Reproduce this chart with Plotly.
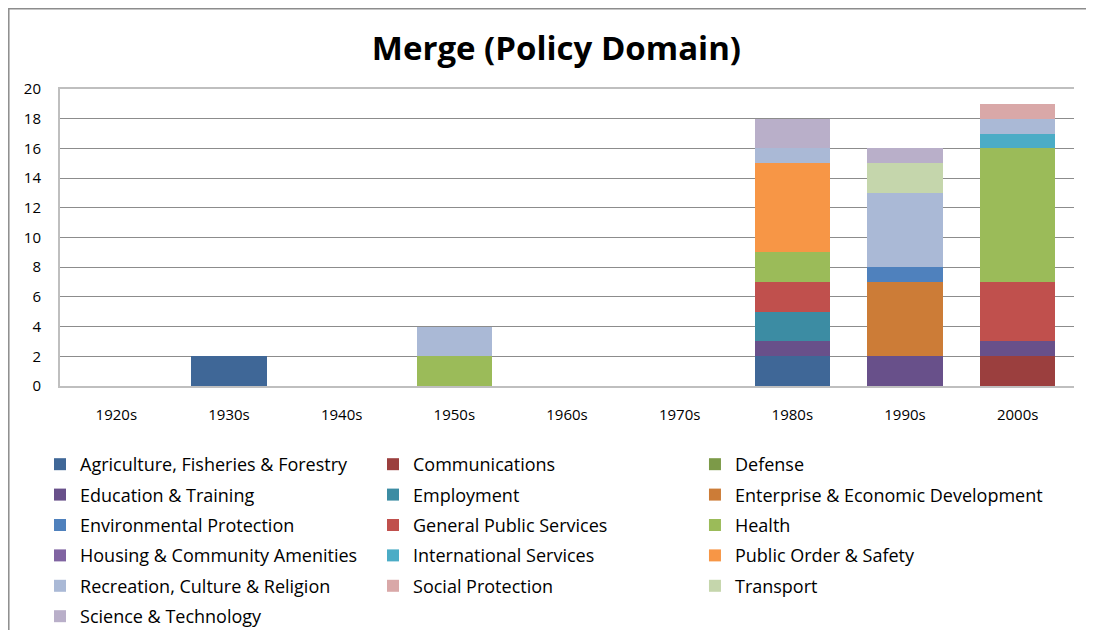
import plotly.graph_objects as go

decades = ["1920s", "1930s", "1940s", "1950s", "1960s", "1970s", "1980s", "1990s", "2000s"]

agriculture = [0, 2, 0, 0, 0, 0, 2, 0, 0]
communications = [0, 0, 0, 0, 0, 0, 0, 0, 2]
defense = [0, 0, 0, 0, 0, 0, 0, 0, 0]
education = [0, 0, 0, 0, 0, 0, 1, 2, 1]
employment = [0, 0, 0, 0, 0, 0, 2, 0, 0]
enterprise = [0, 0, 0, 0, 0, 0, 0, 5, 0]
environmental = [0, 0, 0, 0, 0, 0, 0, 1, 0]
general_public = [0, 0, 0, 0, 0, 0, 2, 0, 4]
health = [0, 0, 0, 2, 0, 0, 2, 0, 9]
housing = [0, 0, 0, 0, 0, 0, 0, 0, 0]
international = [0, 0, 0, 0, 0, 0, 0, 0, 1]
public_order = [0, 0, 0, 0, 0, 0, 6, 0, 0]
recreation = [0, 0, 0, 2, 0, 0, 1, 5, 1]
social = [0, 0, 0, 0, 0, 0, 0, 0, 1]
transport = [0, 0, 0, 0, 0, 0, 0, 2, 0]
science = [0, 0, 0, 0, 0, 0, 2, 1, 0]

# (name, values, colour, legend column)
series = [
    ("Agriculture, Fisheries & Forestry", agriculture, "#3F6797", "legend"),
    ("Communications", communications, "#9B3F3E", "legend2"),
    ("Defense", defense, "#7C9A48", "legend3"),
    ("Education & Training", education, "#68508A", "legend"),
    ("Employment", employment, "#3C8CA3", "legend2"),
    ("Enterprise & Economic Development", enterprise, "#CC7C37", "legend3"),
    ("Environmental Protection", environmental, "#4F81BD", "legend"),
    ("General Public Services", general_public, "#C0504D", "legend2"),
    ("Health", health, "#9BBB59", "legend3"),
    ("Housing & Community Amenities", housing, "#8064A2", "legend"),
    ("International Services", international, "#4BACC6", "legend2"),
    ("Public Order & Safety", public_order, "#F79646", "legend3"),
    ("Recreation, Culture & Religion", recreation, "#AAB9D6", "legend"),
    ("Social Protection", social, "#D9A8A8", "legend2"),
    ("Transport", transport, "#C5D6AC", "legend3"),
    ("Science & Technology", science, "#B9AFC9", "legend"),
]

font = "Open Sans"

fig = go.Figure()
for i, (name, vals, color, leg) in enumerate(series):
    fig.add_trace(go.Bar(
        x=decades, y=vals, name=name,
        marker=dict(color=color, line=dict(width=0)),
        legend=leg, legendgroup=f"g{i}",
    ))

leg_common = dict(
    orientation="v", traceorder="grouped", tracegroupgap=4,
    yanchor="top", y=-0.202, xanchor="left",
    font=dict(family=font, size=18, color="#000000"),
    bgcolor="rgba(0,0,0,0)", itemclick=False,
)

# page has an 8px body margin, so the figure is sized to fit the window
fig.update_layout(
    barmode="stack",
    bargap=0.33,
    width=1086, height=622,
    margin=dict(l=52, r=20, t=81, b=244, autoexpand=False),
    paper_bgcolor="white", plot_bgcolor="white",
    font=dict(family=font, size=15, color="#000000"),
    title=dict(
        text="<b>Merge (Policy Domain)</b>",
        x=0.505, xanchor="center", y=0.9357, yanchor="middle",
        font=dict(family=font, size=33, color="#000000"),
    ),
    xaxis=dict(
        showline=True, linecolor="#BFBFBF", linewidth=2, mirror=True,
        showgrid=False, ticks="", tickfont=dict(size=15),
        ticklabelstandoff=14,
    ),
    yaxis=dict(
        range=[0, 20], dtick=2, showgrid=True, gridcolor="#8C8C8C", gridwidth=1,
        zeroline=False, showline=True, linecolor="#BFBFBF", linewidth=2,
        ticks="", tickfont=dict(size=15), ticklabelstandoff=14,
    ),
    legend=dict(leg_common, x=-0.0197),
    legend2=dict(leg_common, x=0.3087),
    legend3=dict(leg_common, x=0.6262),
    shapes=[dict(
        type="rect", xref="paper", yref="paper",
        x0=-0.0505, x1=1.2, y0=-1.2, y1=1.27,
        line=dict(color="#8C8C8C", width=1.5), fillcolor="rgba(0,0,0,0)",
    )],
)

fig.write_html("out.html")
